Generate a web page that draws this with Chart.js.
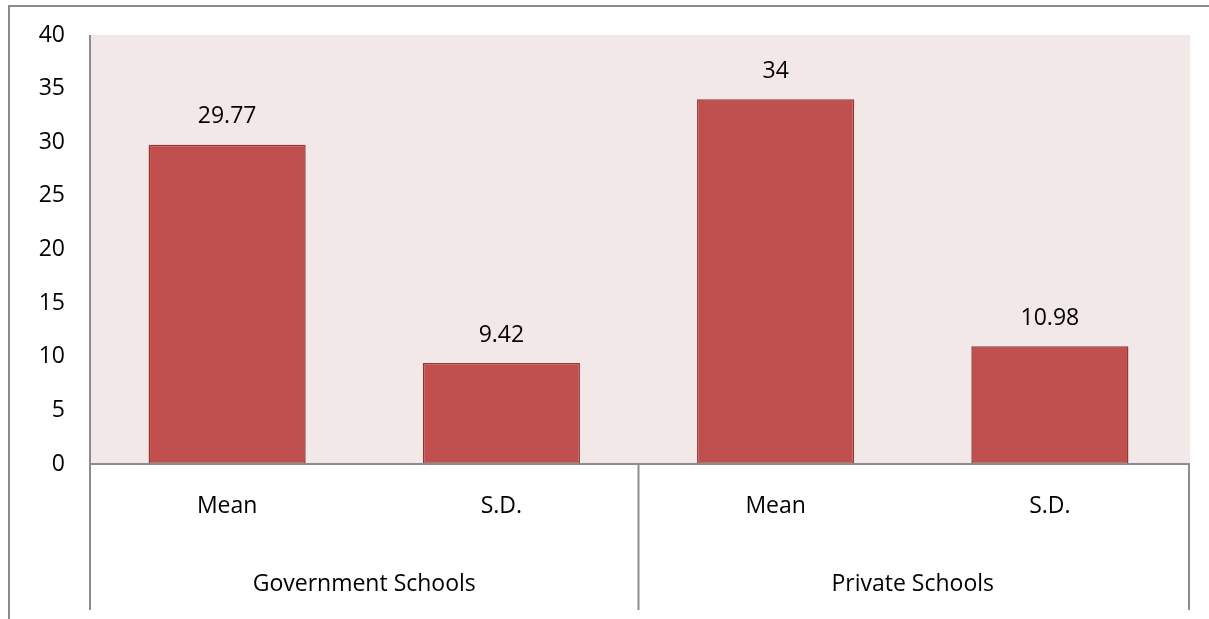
<!DOCTYPE html>
<html><head><meta charset="utf-8">
<script src="https://cdn.jsdelivr.net/npm/chart.js@4.4.1/dist/chart.umd.min.js"></script>
<style>
html,body{margin:0;padding:0;background:#fff;overflow:hidden}
#frame{position:absolute;left:8px;top:5px;width:1300px;height:700px;border-left:2px solid #8c8c8c;border-top:2px solid #8c8c8c}
#wrap{position:absolute;left:0;top:0;width:1209px;height:619px}
</style></head>
<body>
<div id="frame"></div>
<div id="wrap"><canvas id="c" width="1209" height="619"></canvas></div>
<script>
const categories = ["Mean", "S.D.", "Mean", "S.D."];
const groups = ["Government Schools", "Private Schools"];
const groupSizes = [2, 2];
const values = [29.77, 9.42, 34, 10.98];
const valueLabels = ["29.77", "9.42", "34", "10.98"];
const yTicks = [0, 5, 10, 15, 20, 25, 30, 35, 40];

const FONT = "'Open Sans', Lato, sans-serif";
const FSIZE = 23;
const LINE = "#8c8c8c";

const decor = {
  id: 'decor',
  beforeDraw(chart) {
    const {ctx, chartArea: a} = chart;
    ctx.save();
    ctx.fillStyle = '#F3E8E8';
    ctx.fillRect(a.left, a.top, a.right - a.left + 3, a.bottom - a.top);
    ctx.restore();
  },
  afterDatasetsDraw(chart) {
    const {ctx, chartArea: a, scales} = chart;
    const x = scales.x;
    const bottomY = 610;
    ctx.save();
    ctx.strokeStyle = LINE;
    ctx.lineWidth = 2;
    ctx.beginPath(); ctx.moveTo(a.left, a.top); ctx.lineTo(a.left, bottomY); ctx.stroke();
    ctx.beginPath(); ctx.moveTo(a.left, a.bottom); ctx.lineTo(a.right + 3, a.bottom); ctx.stroke();
    let idx = 0;
    const half = (x.getPixelForValue(1) - x.getPixelForValue(0)) / 2;
    ctx.fillStyle = '#000';
    ctx.font = FSIZE + "px " + FONT;
    ctx.textAlign = 'center';
    ctx.textBaseline = 'middle';
    groups.forEach((g, gi) => {
      const start = x.getPixelForValue(idx) - half;
      const end = x.getPixelForValue(idx + groupSizes[gi] - 1) + half;
      const ex = gi === groups.length - 1 ? end + 2 : end;
      ctx.beginPath(); ctx.moveTo(ex, a.bottom); ctx.lineTo(ex, bottomY); ctx.stroke();
      ctx.fillText(g, (start + end) / 2, 584);
      idx += groupSizes[gi];
    });
    const meta = chart.getDatasetMeta(0);
    meta.data.forEach((bar, i) => {
      ctx.fillText(valueLabels[i], bar.x, bar.y - 28);
    });
    ctx.restore();
  }
};

new Chart(document.getElementById('c'), {
  type: 'bar',
  data: {
    labels: categories,
    datasets: [{
      data: values,
      backgroundColor: '#C0504D',
      borderColor: '#933634',
      borderWidth: 1.5,
      borderSkipped: false,
      categoryPercentage: 1,
      barPercentage: 0.573
    }]
  },
  options: {
    responsive: false,
    animation: false,
    layout: {padding: {top: 35, right: 22, left: 0, bottom: 0}},
    plugins: {legend: {display: false}, tooltip: {enabled: false}},
    scales: {
      x: {
        grid: {display: false, drawTicks: false},
        border: {display: false},
        ticks: {color: '#000', font: {size: FSIZE, family: FONT}, padding: 29},
        afterFit(s) { s.height = 155; s.paddingLeft = 0; s.paddingRight = 0; }
      },
      y: {
        min: 0, max: 40,
        afterBuildTicks(s) { s.ticks = yTicks.map(v => ({value: v})); },
        grid: {display: false, drawTicks: false},
        border: {display: false},
        ticks: {color: '#000', font: {size: FSIZE, family: FONT}, padding: 25},
        afterFit(s) { s.width = 90; s.paddingTop = 0; s.paddingBottom = 0; }
      }
    }
  },
  plugins: [decor]
});
</script>
</body></html>
